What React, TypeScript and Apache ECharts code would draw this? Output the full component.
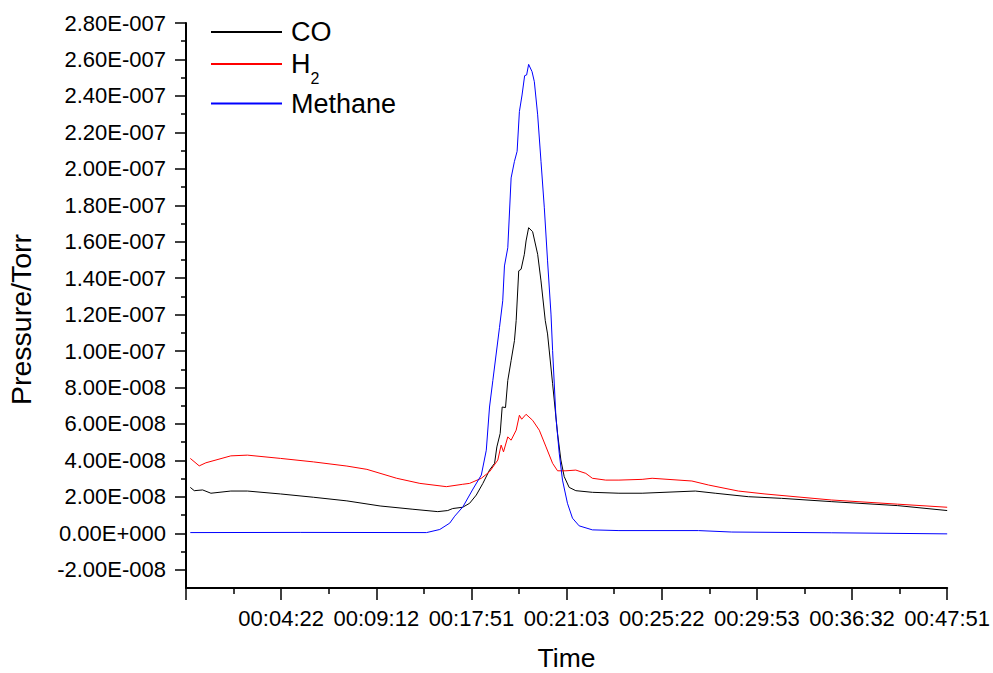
import React, { useEffect, useRef } from "react";
import * as echarts from "echarts";

const FONT = "'Liberation Sans', Arial, sans-serif";

// x positions are in tick-interval units (0..8) along the time axis
const xLabels = ["", "00:04:22", "00:09:12", "00:17:51", "00:21:03", "00:25:22", "00:29:53", "00:36:32", "00:47:51"];

// y values are in units of 1E-8 Torr
const SCALE = 1e-8;
const yTicks = [-2e-8, 0, 2e-8, 4e-8, 6e-8, 8e-8, 1e-7, 1.2e-7, 1.4e-7, 1.6e-7, 1.8e-7, 2e-7, 2.2e-7, 2.4e-7, 2.6e-7, 2.8e-7];
const yMinorTicks = [-1e-8, 1e-8, 3e-8, 5e-8, 7e-8, 9e-8, 1.1e-7, 1.3e-7, 1.5e-7, 1.7e-7, 1.9e-7, 2.1e-7, 2.3e-7, 2.5e-7, 2.7e-7];
const Y_MIN = -3e-8;
const Y_MAX = 2.8e-7;

const coX = [0.045, 0.087, 0.175, 0.262, 0.471, 0.645, 0.994, 1.339, 1.691, 2.04, 2.385, 2.646, 2.751, 2.803, 2.908, 2.981, 3.051, 3.12, 3.19, 3.243, 3.267, 3.302, 3.323, 3.358, 3.382, 3.417, 3.452, 3.47, 3.497, 3.522, 3.556, 3.574, 3.601, 3.643, 3.696, 3.731, 3.776, 3.8, 3.853, 3.905, 3.94, 3.975, 4.027, 4.097, 4.271, 4.55, 4.794, 5.353, 5.562, 5.91, 6.258, 6.781, 7.479, 8.0];
const coY = [2.52, 2.34, 2.38, 2.2, 2.32, 2.32, 2.16, 1.98, 1.78, 1.5, 1.32, 1.19, 1.25, 1.36, 1.43, 1.65, 2.1, 2.74, 3.47, 3.84, 4.74, 5.48, 6.93, 6.9, 8.39, 9.48, 10.57, 11.67, 14.4, 14.49, 15.31, 16.04, 16.77, 16.55, 15.31, 13.85, 11.67, 10.94, 8.21, 5.48, 4.02, 3.11, 2.52, 2.34, 2.25, 2.2, 2.2, 2.32, 2.2, 2.01, 1.92, 1.74, 1.52, 1.25];

const h2X = [0.045, 0.139, 0.209, 0.471, 0.645, 0.994, 1.339, 1.691, 1.901, 2.214, 2.458, 2.737, 2.908, 2.981, 3.104, 3.19, 3.277, 3.312, 3.337, 3.382, 3.417, 3.47, 3.504, 3.528, 3.574, 3.643, 3.713, 3.784, 3.853, 3.905, 3.993, 4.097, 4.202, 4.271, 4.411, 4.55, 4.794, 4.899, 5.317, 5.492, 5.805, 6.085, 6.781, 7.479, 8.0];
const h2Y = [4.11, 3.7, 3.87, 4.25, 4.29, 4.11, 3.92, 3.69, 3.51, 3.02, 2.74, 2.56, 2.69, 2.74, 3.02, 3.38, 4.02, 4.84, 4.47, 5.29, 5.11, 5.66, 6.48, 6.26, 6.53, 6.2, 5.66, 4.74, 3.84, 3.43, 3.43, 3.47, 3.29, 3.02, 2.92, 2.92, 2.96, 3.02, 2.87, 2.65, 2.32, 2.16, 1.83, 1.6, 1.43];

const ch4X = [0.045, 1.2, 2.528, 2.667, 2.772, 2.824, 2.911, 3.016, 3.104, 3.156, 3.19, 3.225, 3.295, 3.329, 3.347, 3.382, 3.417, 3.452, 3.48, 3.504, 3.532, 3.559, 3.58, 3.601, 3.637, 3.661, 3.696, 3.731, 3.766, 3.8, 3.836, 3.853, 3.888, 3.923, 3.957, 4.009, 4.062, 4.132, 4.271, 4.55, 5.387, 5.736, 6.781, 8.0];
const ch4Y = [0.04, 0.05, 0.04, 0.21, 0.56, 0.94, 1.46, 2.43, 3.2, 4.56, 6.93, 8.39, 11.3, 12.76, 14.67, 15.67, 19.5, 20.41, 20.96, 23.14, 24.05, 25.11, 25.15, 25.73, 25.33, 24.78, 22.96, 20.41, 17.86, 14.95, 12.03, 10.03, 6.38, 4.38, 2.92, 1.65, 0.83, 0.41, 0.19, 0.15, 0.15, 0.07, 0.03, -0.03];

const seriesNames = ["CO", "H2", "Methane"];
const seriesColors = ["#000000", "#ff0000", "#0000ff"];

function fmtExp(v: number): string {
  const s = v.toExponential(2);
  const [m, e] = s.split("e");
  const n = parseInt(e, 10);
  const sign = n < 0 ? "-" : "+";
  return m + "E" + sign + String(Math.abs(n)).padStart(3, "0");
}

function pairs(xs: number[], ys: number[]) {
  return xs.map((x, i) => [x, ys[i] * SCALE]);
}

export default function App() {
  const ref = useRef<HTMLDivElement>(null);
  useEffect(() => {
    document.body.style.margin = "0";
    if (!ref.current) return;
    const chart = echarts.init(ref.current, undefined, { renderer: "svg" });
    const dataSets = [pairs(coX, coY), pairs(h2X, h2Y), pairs(ch4X, ch4Y)];
    const axisLineStyle = { color: "#000", width: 2 };
    const tickStyle = { color: "#000", width: 1.5 };
    chart.setOption({
      animation: false,
      backgroundColor: "#ffffff",
      textStyle: { fontFamily: FONT },
      grid: { left: 186, right: 43, top: 23, bottom: 85 },
      legend: {
        orient: "vertical",
        left: 210,
        top: 17,
        padding: 0,
        itemWidth: 71,
        itemHeight: 14,
        itemGap: 2,
        itemStyle: { opacity: 0 },
        data: seriesNames,
        formatter: (name: string) => (name === "H2" ? "H{sub|2}" : name),
        textStyle: {
          fontFamily: FONT,
          fontSize: 27,
          color: "#000",
          lineHeight: 30,
          padding: [0, 0, 0, 4],
          rich: {
            sub: {
              fontFamily: FONT,
              fontSize: 16,
              color: "#000",
              lineHeight: 10,
              padding: [14.5, 0, -14.5, 0],
            },
          },
        },
      },
      xAxis: {
        type: "value",
        min: 0,
        max: 8,
        interval: 1,
        axisLine: { show: true, onZero: false, lineStyle: axisLineStyle },
        axisTick: { show: true, length: 12, lineStyle: tickStyle },
        minorTick: { show: true, splitNumber: 2, length: 6, lineStyle: tickStyle },
        splitLine: { show: false },
        minorSplitLine: { show: false },
        axisLabel: {
          fontFamily: FONT,
          fontSize: 22,
          color: "#000",
          margin: 19,
          showMinLabel: true,
          showMaxLabel: true,
          formatter: (v: number) => xLabels[Math.round(v)] ?? "",
        },
      },
      yAxis: [
        {
          type: "value",
          min: Y_MIN,
          max: Y_MAX,
          axisLine: { show: true, onZero: false, lineStyle: axisLineStyle },
          axisTick: { show: true, length: 11, customValues: yTicks, lineStyle: tickStyle },
          splitLine: { show: false },
          axisLabel: {
            customValues: yTicks,
            fontFamily: FONT,
            fontSize: 22,
            color: "#000",
            margin: 20,
            formatter: (v: number) => fmtExp(v),
          },
        },
        {
          type: "value",
          min: Y_MIN,
          max: Y_MAX,
          position: "left",
          axisLine: { show: false, onZero: false },
          axisTick: { show: true, length: 5, customValues: yMinorTicks, lineStyle: tickStyle },
          axisLabel: { show: false },
          splitLine: { show: false },
        },
      ],
      graphic: [
        {
          type: "text",
          x: 566.5,
          y: 658,
          style: { text: "Time", fontFamily: FONT, fontSize: 26.5, lineHeight: 22, fill: "#000", align: "center", verticalAlign: "middle" },
        },
        {
          type: "text",
          x: 21,
          y: 319.5,
          rotation: Math.PI / 2,
          style: { text: "Pressure/Torr", fontFamily: FONT, fontSize: 28.5, fill: "#000", align: "center", verticalAlign: "middle" },
        },
      ],
      series: seriesNames.map((name, i) => ({
        name,
        type: "line",
        yAxisIndex: 0,
        symbol: "none",
        showSymbol: false,
        color: seriesColors[i],
        lineStyle: { color: seriesColors[i], width: 1 },
        itemStyle: { color: seriesColors[i] },
        data: dataSets[i],
      })),
    });
    return () => chart.dispose();
  }, []);
  return <div ref={ref} style={{ width: 993, height: 673 }} />;
}
